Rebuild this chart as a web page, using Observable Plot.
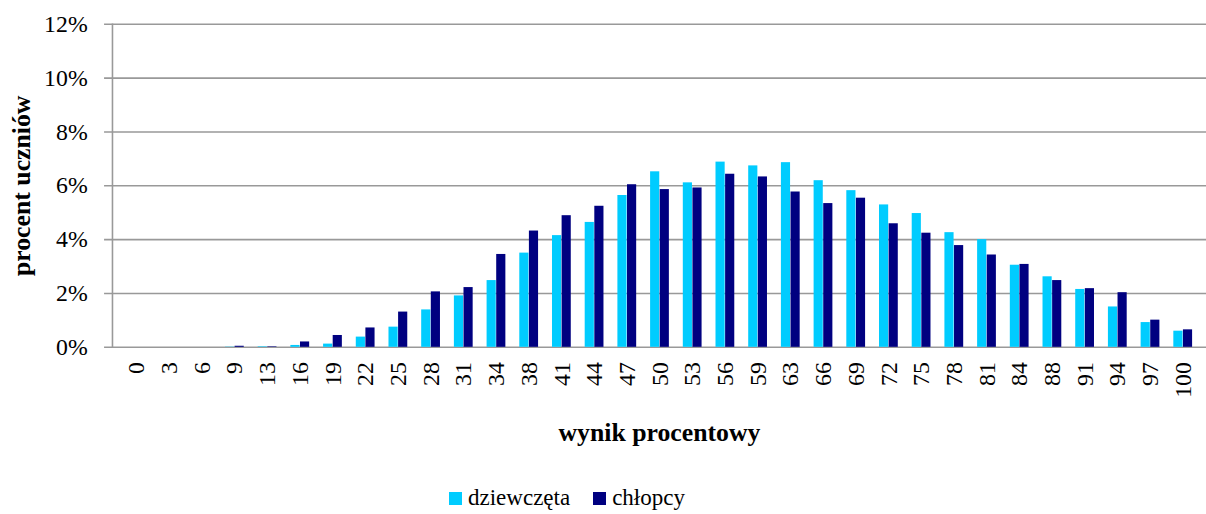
<!DOCTYPE html>
<html>
<head>
<meta charset="utf-8">
<script src="https://cdn.jsdelivr.net/npm/d3@7"></script>
<script src="https://cdn.jsdelivr.net/npm/@observablehq/plot@0.6"></script>
<style>
  html, body { margin: 0; padding: 0; background: #fff; overflow: hidden; }
  #wrap { position: relative; width: 1206px; height: 514px; }
  #legend { position: absolute; top: 485px; left: 449px; font-family: "Liberation Serif", Tinos, "Times New Roman", Times, "DejaVu Serif", serif; font-size: 23px; color: #000; display: flex; align-items: center; white-space: nowrap; }
  .sw { display: inline-block; width: 13px; height: 13px; margin-right: 6px; }
  .item { display: inline-flex; align-items: center; margin-right: 23px; }
  svg text { font-family: "Liberation Serif", Tinos, "Times New Roman", Times, "DejaVu Serif", serif; }
</style>
</head>
<body>
<div id="wrap"><div id="chart"></div><div id="legend"></div></div>
<script>
const categories = ["0","3","6","9","13","16","19","22","25","28","31","34","38","41","44","47","50","53","56","59","63","66","69","72","75","78","81","84","88","91","94","97","100"];
const girls = [0,0,0,0.01,0.02,0.07,0.12,0.38,0.75,1.39,1.91,2.48,3.50,4.15,4.64,5.64,6.52,6.11,6.88,6.74,6.86,6.19,5.82,5.29,4.97,4.26,4.00,3.05,2.62,2.15,1.50,0.92,0.60];
const boys = [0,0,0,0.04,0.02,0.20,0.44,0.72,1.31,2.06,2.22,3.45,4.32,4.89,5.24,6.04,5.86,5.92,6.43,6.33,5.77,5.34,5.54,4.59,4.24,3.78,3.43,3.08,2.48,2.18,2.03,1.01,0.65];
const seriesNames = ["dziewczęta", "chłopcy"];
const seriesColors = ["#00CCFF", "#000080"];
const yTicks = [0, 2, 4, 6, 8, 10, 12];
const xTitle = "wynik procentowy";
const yTitle = "procent uczniów";

const W = 1217, ML = 113, MR = 0, MT = 24, MB = 120, H = 470;
const bw = (W - ML - MR) / categories.length;
const barW = 9.7;

const girlsData = categories.map((c, i) => ({cat: c, v: girls[i]}));
const boysData = categories.map((c, i) => ({cat: c, v: boys[i]}));

const serif = "'Liberation Serif', Tinos, 'Times New Roman', Times, 'DejaVu Serif', serif";

const chart = Plot.plot({
  width: W, height: H,
  marginLeft: ML, marginRight: MR, marginTop: MT, marginBottom: MB,
  style: {fontFamily: serif, fontSize: "24px", color: "#000", background: "#fff", overflow: "visible"},
  x: {type: "band", domain: categories, paddingInner: 0, paddingOuter: 0},
  y: {domain: [0, 12]},
  marks: [
    Plot.ruleY(yTicks, {y: d => d, stroke: "#999", strokeWidth: 1.6, insetLeft: -8}),
    Plot.barY(girlsData, {x: "cat", y: "v", fill: seriesColors[0], insetLeft: bw / 2 - barW, insetRight: bw / 2}),
    Plot.barY(boysData, {x: "cat", y: "v", fill: seriesColors[1], insetLeft: bw / 2, insetRight: bw / 2 - barW}),
    Plot.frame({anchor: "left", stroke: "#999", strokeWidth: 1.6}),
    Plot.axisY(yTicks, {tickSize: 0, tickPadding: 25, tickFormat: d => d + "%", label: null, fontSize: 24}),
    Plot.axisX({tickSize: 0, tickPadding: 15, tickRotate: -90, label: null, fontSize: 24}),
    Plot.text([xTitle], {text: d => d, frameAnchor: "bottom", dy: 86, fontWeight: "bold", fontSize: 26, lineAnchor: "middle", textAnchor: "middle"}),
    Plot.text([yTitle], {text: d => d, frameAnchor: "left", dx: -92, rotate: -90, fontWeight: "bold", fontSize: 26, lineAnchor: "middle", textAnchor: "middle"})
  ]
});
document.getElementById("chart").appendChild(chart);

const legend = document.getElementById("legend");
seriesNames.forEach((name, i) => {
  const item = document.createElement("span");
  item.className = "item";
  const sw = document.createElement("span");
  sw.className = "sw";
  sw.style.background = seriesColors[i];
  item.appendChild(sw);
  item.appendChild(document.createTextNode(name));
  legend.appendChild(item);
});
</script>
</body>
</html>
